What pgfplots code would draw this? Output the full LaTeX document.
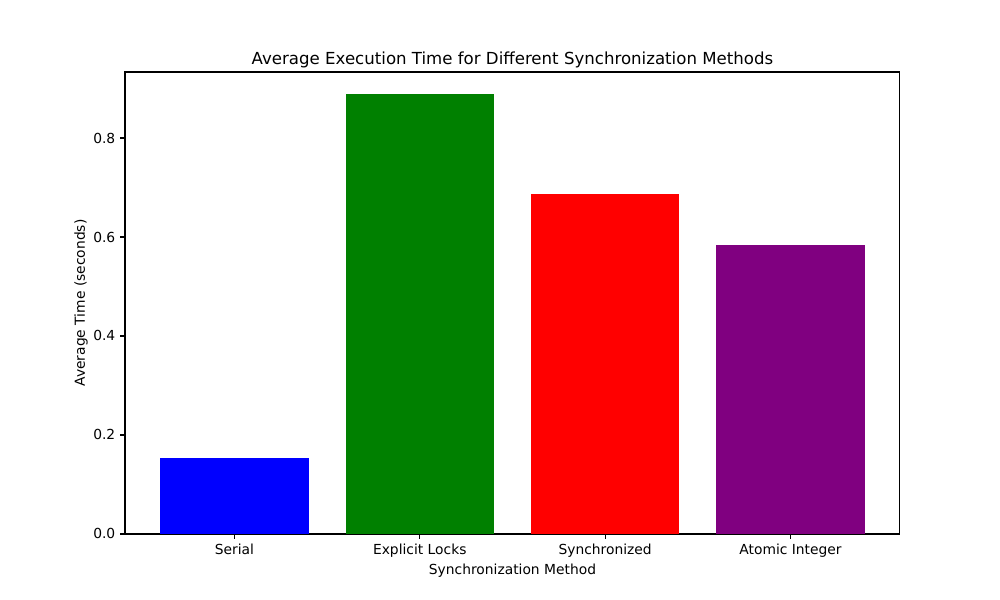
\documentclass[border=0pt]{standalone}
\usepackage{pgfplots}
\pgfplotsset{compat=1.18}
\usepackage{fontspec}
\setmainfont{DejaVu Sans}
\definecolor{mplgreen}{RGB}{0,128,0}
\definecolor{mplpurple}{RGB}{128,0,128}
\begin{document}
\begin{tikzpicture}
\begin{axis}[
    at={(0,0)}, anchor=south west,
    scale only axis,
    width=560.09pt,
    height=333.89pt,
    xmin=-0.59, xmax=3.59,
    ymin=0, ymax=0.93333,
    xtick={0,1,2,3},
    xticklabels={Serial, Explicit Locks, Synchronized, Atomic Integer},
    ytick={0,0.2,0.4,0.6,0.8},
    yticklabel style={/pgf/number format/.cd, fixed, fixed zerofill, precision=1, assume math mode=true},
    xticklabel style={/pgf/number format/assume math mode=true},
    tick align=outside,
    major tick length=3.5pt,
    xtick pos=bottom, ytick pos=left,
    every tick/.style={black, line width=0.8pt},
    axis line style={line width=0.8pt},
    tick label style={font=\fontsize{10}{12}\selectfont, inner sep=0pt, outer sep=3.5pt},
    label style={font=\fontsize{10}{12}\selectfont},
    xlabel={Synchronization Method},
    ylabel={Average Time (seconds)},
    xlabel style={inner sep=0pt, outer sep=3.5pt, yshift=-1.5pt},
    ylabel style={inner sep=0pt, outer sep=4pt},
    title={Average Execution Time for Different Synchronization Methods},
    title style={font=\fontsize{12}{14}\selectfont, at={(axis description cs:0.5,1)}, anchor=south, inner sep=0pt, yshift=-3.4pt},
]
\addplot[ybar, bar width=0.8, bar shift=0pt, fill=blue, draw=none] coordinates {(0,0.1535)};
\addplot[ybar, bar width=0.8, bar shift=0pt, fill=mplgreen, draw=none] coordinates {(1,0.8889)};
\addplot[ybar, bar width=0.8, bar shift=0pt, fill=red, draw=none] coordinates {(2,0.6869)};
\addplot[ybar, bar width=0.8, bar shift=0pt, fill=mplpurple, draw=none] coordinates {(3,0.5838)};
\end{axis}
\pgfresetboundingbox
\path (-90.34pt,-47.70pt) rectangle (632.43pt,385.92pt);
\end{tikzpicture}
\end{document}
